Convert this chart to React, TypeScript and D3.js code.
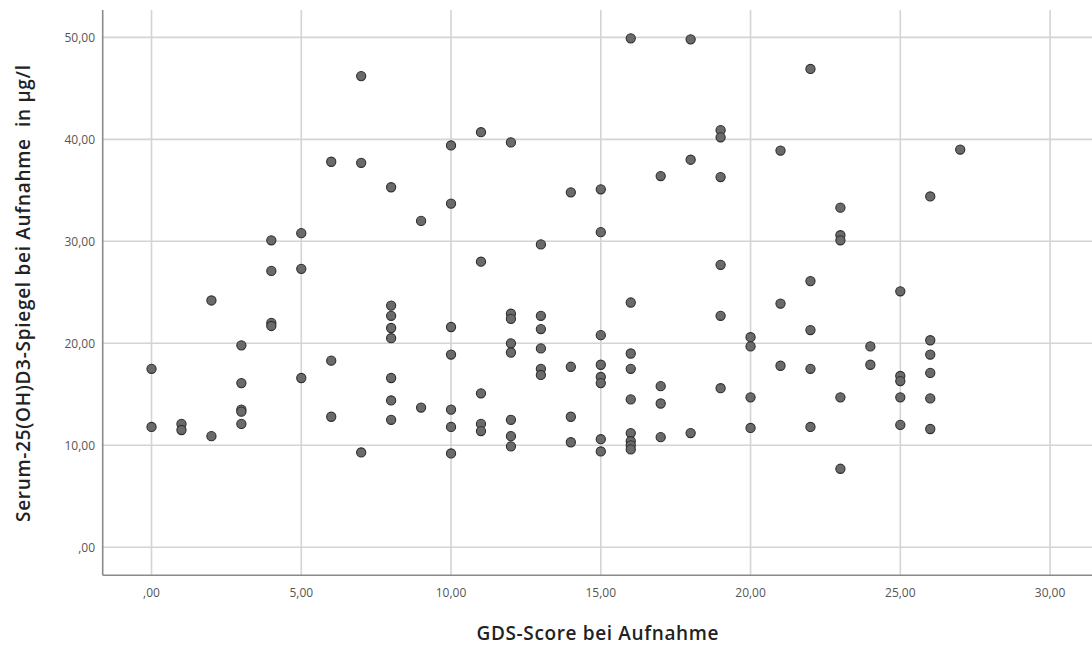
import React from "react";
import * as d3 from "d3";

// GDS-Score bei Aufnahme (x) and Serum-25(OH)D3-Spiegel (y), one entry per patient
const gdsScore: number[] = [
  0, 0,
  1, 1,
  2, 2,
  3, 3, 3, 3, 3,
  4, 4, 4, 4,
  5, 5, 5,
  6, 6, 6,
  7, 7, 7,
  8, 8, 8, 8, 8, 8, 8, 8,
  9, 9,
  10, 10, 10, 10, 10, 10, 10,
  11, 11, 11, 11, 11,
  12, 12, 12, 12, 12, 12, 12, 12,
  13, 13, 13, 13, 13, 13,
  14, 14, 14, 14,
  15, 15, 15, 15, 15, 15, 15, 15,
  16, 16, 16, 16, 16, 16, 16, 16, 16,
  17, 17, 17, 17,
  18, 18, 18,
  19, 19, 19, 19, 19, 19,
  20, 20, 20, 20,
  21, 21, 21,
  22, 22, 22, 22, 22,
  23, 23, 23, 23, 23,
  24, 24,
  25, 25, 25, 25, 25,
  26, 26, 26, 26, 26, 26,
  27,
];

const vitaminD: number[] = [
  17.5, 11.8,
  12.1, 11.5,
  24.2, 10.9,
  19.8, 16.1, 13.5, 13.3, 12.1,
  30.1, 27.1, 22.0, 21.7,
  30.8, 27.3, 16.6,
  37.8, 18.3, 12.8,
  46.2, 37.7, 9.3,
  35.3, 23.7, 22.7, 21.5, 20.5, 16.6, 14.4, 12.5,
  32.0, 13.7,
  39.4, 33.7, 21.6, 18.9, 13.5, 11.8, 9.2,
  40.7, 28.0, 15.1, 12.1, 11.4,
  39.7, 22.9, 22.4, 20.0, 19.1, 12.5, 10.9, 9.9,
  29.7, 22.7, 21.4, 19.5, 17.5, 16.9,
  34.8, 17.7, 12.8, 10.3,
  35.1, 30.9, 20.8, 17.9, 16.7, 16.1, 10.6, 9.4,
  49.9, 24.0, 19.0, 17.5, 14.5, 11.2, 10.4, 10.0, 9.6,
  36.4, 15.8, 14.1, 10.8,
  49.8, 38.0, 11.2,
  40.9, 40.2, 36.3, 27.7, 22.7, 15.6,
  20.6, 19.7, 14.7, 11.7,
  38.9, 23.9, 17.8,
  46.9, 26.1, 21.3, 17.5, 11.8,
  33.3, 30.6, 30.1, 14.7, 7.7,
  19.7, 17.9,
  25.1, 16.8, 16.3, 14.7, 12.0,
  34.4, 20.3, 18.9, 17.1, 14.6, 11.6,
  39.0,
];

const xTicks: number[] = [0, 5, 10, 15, 20, 25, 30];
const yTicks: number[] = [0, 10, 20, 30, 40, 50];

const xTitle = "GDS-Score bei Aufnahme";
const yTitle = "Serum-25(OH)D3-Spiegel bei Aufnahme  in µg/l";

const W = 1092;
const H = 647;
const left = 102.7;
const right = 1092;
const top = 10;
const bottom = 575.3;

const fmt = (v: number) => (v === 0 ? ",00" : v.toFixed(2).replace(".", ","));

export default function App() {
  const x = d3.scaleLinear().domain([-1.63, 31.4]).range([left, right]);
  const y = d3.scaleLinear().domain([-2.745, 52.68]).range([bottom, top]);
  const font = "'Open Sans', 'Noto Sans', sans-serif";

  return (
    <svg
      width={W}
      height={H}
      style={{ position: "absolute", left: 0, top: 0, background: "#fff" }}
    >
      {/* grid */}
      {xTicks.map((t) => (
        <line
          key={"gx" + t}
          x1={x(t)}
          x2={x(t)}
          y1={top}
          y2={bottom}
          stroke="#d4d4d4"
          strokeWidth={1.6}
        />
      ))}
      {yTicks.map((t) => (
        <line
          key={"gy" + t}
          x1={left}
          x2={right}
          y1={y(t)}
          y2={y(t)}
          stroke="#d4d4d4"
          strokeWidth={1.6}
        />
      ))}
      {/* axes */}
      <line x1={left} x2={left} y1={top} y2={bottom} stroke="#8a8a8a" strokeWidth={1.6} />
      <line x1={left} x2={right} y1={bottom} y2={bottom} stroke="#8a8a8a" strokeWidth={1.6} />

      {/* tick labels */}
      {xTicks.map((t) => (
        <text
          key={"tx" + t}
          x={x(t)}
          y={597}
          textAnchor="middle"
          fontFamily={font}
          fontSize={12}
          fill="#555"
        >
          {fmt(t)}
        </text>
      ))}
      {yTicks.map((t) => (
        <text
          key={"ty" + t}
          x={95}
          y={y(t) + 4.5}
          textAnchor="end"
          fontFamily={font}
          fontSize={12}
          fill="#555"
        >
          {fmt(t)}
        </text>
      ))}

      {/* points */}
      {gdsScore.map((g, i) => (
        <circle
          key={"p" + i}
          cx={x(g)}
          cy={y(vitaminD[i])}
          r={4.6}
          fill="#6a6a6a"
          stroke="#2e2e2e"
          strokeWidth={1.1}
        />
      ))}

      {/* axis titles */}
      <text
        x={597.5}
        y={640}
        textAnchor="middle"
        fontFamily={font}
        fontWeight={600}
        fontSize={19}
        fill="#222"
        textLength={242}
      >
        {xTitle}
      </text>
      <text
        transform={`translate(29.5, 293.5) rotate(-90)`}
        textAnchor="middle"
        fontFamily={font}
        fontWeight={600}
        fontSize={19}
        fill="#222"
        textLength={457}
        style={{ whiteSpace: "pre" }}
      >
        {yTitle}
      </text>
    </svg>
  );
}
